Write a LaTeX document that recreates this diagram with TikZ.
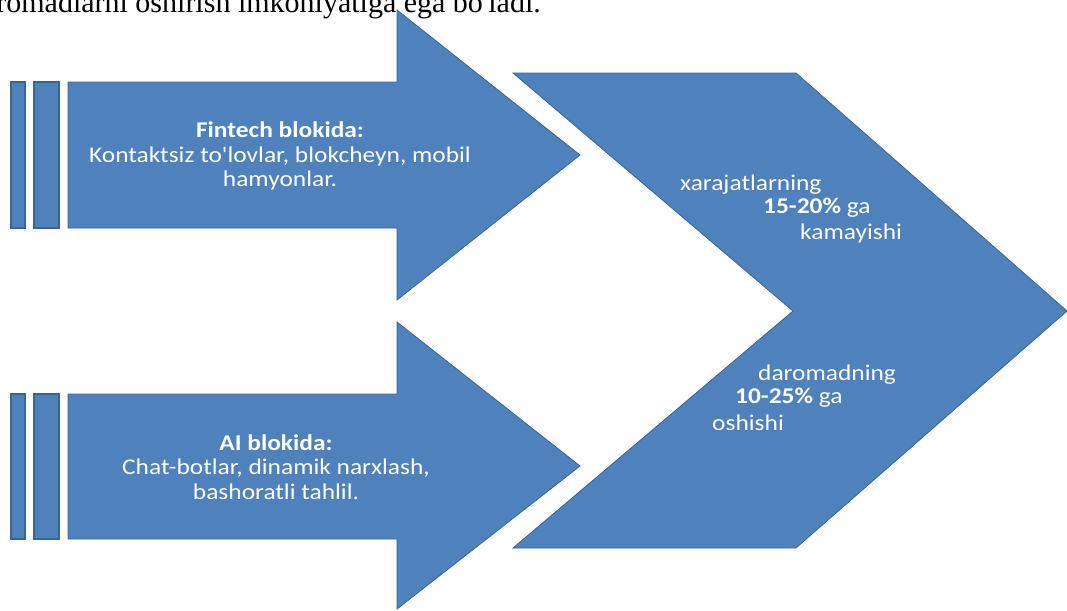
\documentclass[tikz,border=0pt]{standalone}
\usepackage{fontspec}
\setmainfont{Carlito}
\newfontfamily\labelfont[FakeStretch=1.13]{Carlito}
\newfontfamily\pagefont{Liberation Serif}
\definecolor{arrowblue}{HTML}{4F81BD}
\definecolor{arrowedge}{HTML}{3B6593}

\begin{document}
\begin{tikzpicture}[x=1pt, y=-1pt,
    blueshape/.style={fill=arrowblue, draw=arrowedge, line width=0.8pt, line join=miter},
    bar/.style={blueshape, line width=1.6pt},
    lbl/.style={text=white, font=\labelfont\fontsize{22.5}{24.5}\selectfont, inner sep=0pt},
  ]
  \useasboundingbox (0,0) rectangle (1067,610);
  \clip (0,0) rectangle (1067,610);

  % cut-off line of the page above
  \node[anchor=base east, inner sep=0pt, font=\pagefont\fontsize{30}{34}\selectfont]
    at (541,13) (pageline) {daromadlarni oshirish imkoniyatiga ega bo'ladi.};

  % top arrow
  \draw[bar] (11,82) rectangle (25,228);
  \draw[bar] (34,82) rectangle (59,228);
  \draw[blueshape] (68,82) -- (397,82) -- (397,10) -- (580,155)
    -- (397,300) -- (397,228) -- (68,228) -- cycle;

  % bottom arrow
  \draw[bar] (11,394) rectangle (25,539);
  \draw[bar] (34,394) rectangle (59,539);
  \draw[blueshape] (68,394) -- (397,394) -- (397,322) -- (580,466)
    -- (397,609) -- (397,539) -- (68,539) -- cycle;

  % chevron
  \draw[blueshape] (513,73) -- (796,73) -- (1067,311) -- (796,548)
    -- (513,548) -- (793,311) -- cycle;

  \node[lbl, align=center] at (280,156) (fintech)
    {\textbf{Fintech blokida:}\\Kontaktsiz to'lovlar, blokcheyn, mobil\\hamyonlar.};
  \node[lbl, align=center] at (276,467) (ai)
    {\textbf{AI blokida:}\\Chat-botlar, dinamik narxlash,\\bashoratli tahlil.};

  \node[lbl, anchor=west] at (680,185) (costa) {xarajatlarning};
  \node[lbl, anchor=west] at (763,208) (costb) {\textbf{15-20\%} ga};
  \node[lbl, anchor=west] at (800,233) (costc) {kamayishi};
  \node[lbl, anchor=west] at (758,375) (incomea) {daromadning};
  \node[lbl, anchor=west] at (735,398) (incomeb) {\textbf{10-25\%} ga};
  \node[lbl, anchor=west] at (712,423) (incomec) {oshishi};
\end{tikzpicture}
\end{document}
